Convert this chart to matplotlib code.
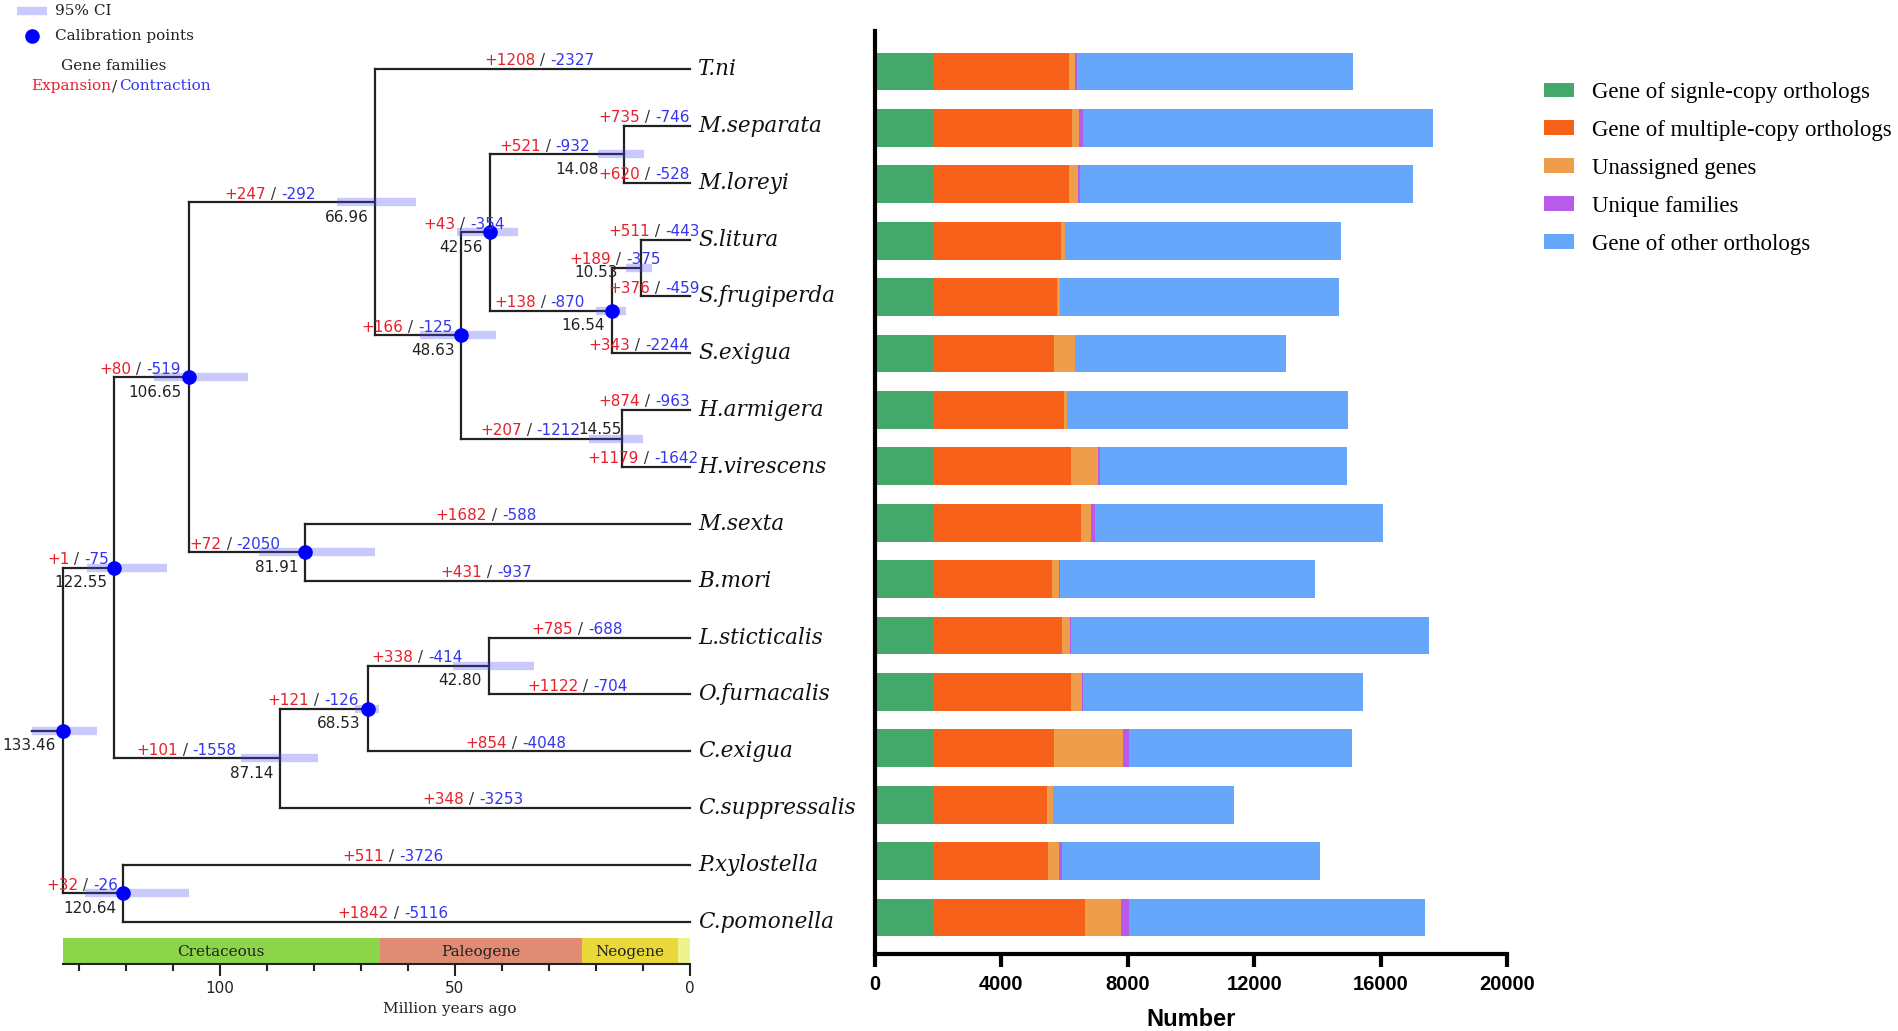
import matplotlib
matplotlib.use('Agg')
import matplotlib.pyplot as plt
from matplotlib.lines import Line2D
from matplotlib.patches import Patch
from matplotlib.offsetbox import TextArea, HPacker, AnnotationBbox
import numpy as np

# ---------------- data ----------------
species = ['T.ni', 'M.separata', 'M.loreyi', 'S.litura', 'S.frugiperda', 'S.exigua',
           'H.armigera', 'H.virescens', 'M.sexta', 'B.mori', 'L.sticticalis',
           'O.furnacalis', 'C.exigua', 'C.suppressalis', 'P.xylostella', 'C.pomonella']

# gene family expansion / contraction on terminal branches
sp_gain = [1208, 735, 620, 511, 376, 343, 874, 1179, 1682, 431, 785, 1122, 854, 348, 511, 1842]
sp_loss = [2327, 746, 528, 443, 459, 2244, 963, 1642, 588, 937, 688, 704, 4048, 3253, 3726, 5116]

# internal nodes
node_id = ['R', 'A', 'B', 'C', 'D', 'E', 'F', 'G', 'H', 'I', 'J', 'K', 'L', 'M', 'N']
node_age = [133.46, 122.55, 120.64, 106.65, 87.14, 68.53, 42.80, 66.96, 81.91,
            48.63, 42.56, 14.55, 14.08, 16.54, 10.53]
node_kids = [('A', 'B'), ('C', 'D'), ('P.xylostella', 'C.pomonella'), ('G', 'H'),
             ('E', 'C.suppressalis'), ('F', 'C.exigua'), ('L.sticticalis', 'O.furnacalis'),
             ('T.ni', 'I'), ('M.sexta', 'B.mori'), ('J', 'K'), ('L', 'M'),
             ('H.armigera', 'H.virescens'), ('M.separata', 'M.loreyi'), ('N', 'S.exigua'),
             ('S.litura', 'S.frugiperda')]
ci_old = [140.1, 128.2, 128.7, 114.0, 95.6, 71.3, 50.4, 75.2, 91.6, 57.4, 49.6, 21.5, 19.5, 19.9, 13.6]
ci_young = [126.2, 111.3, 106.7, 94.1, 79.1, 66.1, 33.2, 58.2, 67.0, 41.3, 36.5, 9.9, 9.8, 13.6, 8.0]
calibrated = [True, True, True, True, False, True, False, False, True, True, True,
              False, False, True, False]
node_gain = [None, 1, 32, 80, 101, 121, 338, 247, 72, 166, 43, 207, 521, 138, 189]
node_loss = [None, 75, 26, 519, 1558, 126, 414, 292, 2050, 125, 354, 1212, 932, 870, 375]

# where the +/- labels sit along each branch (Ma)
sp_lab_x = [32.1, 9.8, 9.8, 7.7, 7.7, 10.9, 9.8, 10.0, 43.4, 43.4, 24.0, 24.0, 37.0, 46.2, 63.2, 63.2]
node_lab_x = [None, 130.2, 129.4, 117.0, 107.2, 80.2, 58.1, 89.4, 96.8, 60.2, 48.1, 34.0, 30.9, 32.0, 15.9]

periods = ['Cretaceous', 'Paleogene', 'Neogene', '']
period_start = [133.46, 66.0, 23.0, 2.6]
period_end = [66.0, 23.0, 2.6, 0.0]
period_col = ['#8cd44a', '#e08c74', '#e8d83a', '#eef38c']

# gene counts per species
single_copy = [1850, 1850, 1850, 1850, 1850, 1850, 1850, 1850, 1850, 1850, 1850, 1850, 1850, 1850, 1850, 1850]
multi_copy = [4280, 4380, 4280, 4050, 3925, 3825, 4125, 4350, 4660, 3740, 4065, 4350, 3810, 3585, 3615, 4790]
unassigned = [210, 240, 297, 99, 84, 664, 99, 863, 326, 226, 241, 354, 2181, 198, 354, 1132]
unique_fam = [60, 113, 71, 10, 5, 5, 5, 57, 114, 43, 56, 43, 183, 5, 113, 255]
other_orth = [8716, 11082, 10530, 8736, 8813, 6676, 8898, 7827, 9114, 8067, 11309, 8848, 7062, 5732, 8138, 9384]

bar_labels = ['Gene of signle-copy orthologs', 'Gene of multiple-copy orthologs',
              'Unassigned genes', 'Unique families', 'Gene of other orthologs']
bar_colors = ['#45a86b', '#f76119', '#ee9e4a', '#b95bea', '#66a7fb']

RED = '#e8202a'
BLUE = '#3535f0'
CI_COL = (0.3, 0.3, 0.95)

W, H = 1899, 1031
fig = plt.figure(figsize=(W / 100, H / 100), dpi=100)
fig.patch.set_facecolor('white')


def P(x, y):
    return x / W, 1 - y / H


# ---------------- tree panel ----------------
ax = fig.add_axes([0, (H - 964) / H, 900 / W, 964 / H])
ax.set_xlim(690 / 4.7, (690 - 900) / 4.7)
ax.set_ylim((964 - 69) / 56.85, -69 / 56.85)


def ypos(name):
    if name in species:
        return species.index(name)
    k = node_kids[node_id.index(name)]
    return (ypos(k[0]) + ypos(k[1])) / 2


def age(name):
    if name in species:
        return 0.0
    return node_age[node_id.index(name)]


def change_label(x, y, gain, loss):
    parts = [TextArea('+%d' % gain, textprops=dict(color=RED, fontsize=11, family='DejaVu Sans')),
             TextArea(' / ', textprops=dict(color='#333333', fontsize=11, family='DejaVu Sans')),
             TextArea('-%d' % loss, textprops=dict(color=BLUE, fontsize=11, family='DejaVu Sans'))]
    box = HPacker(children=parts, align='baseline', pad=0, sep=0)
    ab = AnnotationBbox(box, (x, y), xybox=(0, 0.5), xycoords='data', boxcoords='offset points',
                        box_alignment=(0.5, 0), frameon=False, pad=0, zorder=6)
    ax.add_artist(ab)


LC = '#222222'
for i, nid in enumerate(node_id):
    a = node_age[i]
    k1, k2 = node_kids[i]
    ax.plot([a, a], [ypos(k1), ypos(k2)], color=LC, lw=1.6, zorder=2, solid_capstyle='projecting')
    for k in (k1, k2):
        ax.plot([a, age(k)], [ypos(k), ypos(k)], color=LC, lw=1.6, zorder=2, solid_capstyle='projecting')

# root stem
ax.plot([ci_old[0], node_age[0]], [ypos('R')] * 2, color=LC, lw=1.6, zorder=2)

# confidence intervals and calibration points
for i, nid in enumerate(node_id):
    y = ypos(nid)
    ax.plot([ci_old[i], ci_young[i]], [y, y], color=CI_COL, alpha=0.3, lw=6,
            solid_capstyle='butt', zorder=3)
    if calibrated[i]:
        ax.plot(node_age[i], y, 'o', color='#0000ff', ms=9.5, zorder=5)

# node age labels (offsets in px: dx, dy; dy positive downwards)
age_off = {'K': (0, -9), 'L': (-25, 15), 'N': (-23, 5)}
for i, nid in enumerate(node_id):
    dx, dy = age_off.get(nid, (-7, 15))
    ax.annotate('%.2f' % node_age[i], (node_age[i], ypos(nid)), xytext=(dx * 0.72, -dy * 0.72),
                textcoords='offset points', ha='right', va='center', fontsize=11,
                family='DejaVu Sans', color='#222222', zorder=6)

# expansion / contraction labels
for i, sp in enumerate(species):
    change_label(sp_lab_x[i], i, sp_gain[i], sp_loss[i])
for i, nid in enumerate(node_id):
    if node_gain[i] is None:
        continue
    change_label(node_lab_x[i], ypos(nid), node_gain[i], node_loss[i])

# species names
for i, sp in enumerate(species):
    ax.text(-1.7, i, sp, ha='left', va='center', fontsize=15.5, style='italic',
            family='DejaVu Serif', color='#111111')

# geological time bar
gy = ((938 + 963) / 2 - 69) / 56.85
gh = 25 / 56.85
for i in range(len(periods)):
    ax.barh(gy, period_start[i] - period_end[i], left=period_end[i], height=gh,
            color=period_col[i], edgecolor='none', zorder=1)
    if periods[i]:
        ax.text((period_start[i] + period_end[i]) / 2, gy + 0.02, periods[i], ha='center',
                va='center', fontsize=11, family='DejaVu Serif', color='#222222')

for s in ['top', 'right', 'left']:
    ax.spines[s].set_visible(False)
ax.spines['bottom'].set_bounds(node_age[0], 0)
ax.spines['bottom'].set_linewidth(1.5)
ax.spines['bottom'].set_color('#222222')
ax.set_yticks([])
ax.set_xticks([100, 50, 0])
ax.set_xticks(np.arange(10, 140, 10), minor=True)
ax.tick_params(axis='x', which='major', length=8.5, width=1.5, pad=4, labelsize=11,
               colors='#222222')
ax.tick_params(axis='x', which='minor', length=5, width=1.5, colors='#222222')
ax.set_xlabel('Million years ago', fontsize=11, family='DejaVu Serif', color='#222222',
              labelpad=4)
ax.patch.set_alpha(0)

# left legend
fig.add_artist(Line2D([17 / W, 47 / W], [1 - 11 / H] * 2, color=CI_COL, alpha=0.3, lw=6,
                      solid_capstyle='butt'))
fig.add_artist(Line2D([32 / W], [1 - 36 / H], marker='o', color='#0000ff', ms=9.5, lw=0))
fig.text(*P(55, 11), '95% CI', ha='left', va='center', fontsize=11, family='DejaVu Serif',
         color='#222222')
fig.text(*P(55, 36), 'Calibration points', ha='left', va='center', fontsize=11,
         family='DejaVu Serif', color='#222222')
fig.text(*P(114, 66), 'Gene families', ha='center', va='center', fontsize=11,
         family='DejaVu Serif', color='#222222')
fig.text(*P(111, 86), 'Expansion', ha='right', va='center', fontsize=11,
         family='DejaVu Serif', color=RED)
fig.text(*P(115, 86), '/', ha='center', va='center', fontsize=11, family='DejaVu Serif',
         color='#222222')
fig.text(*P(119, 86), 'Contraction', ha='left', va='center', fontsize=11,
         family='DejaVu Serif', color=BLUE)

# ---------------- bar panel ----------------
BX0, BX1, BY0, BY1 = 875, 1507, 31, 954
bx = fig.add_axes([BX0 / W, (H - BY1) / H, (BX1 - BX0) / W, (BY1 - BY0) / H])
ypos_bar = np.arange(len(species))
left = np.zeros(len(species))
series = [single_copy, multi_copy, unassigned, unique_fam, other_orth]
for vals, lab, col in zip(series, bar_labels, bar_colors):
    vals = np.array(vals, dtype=float)
    bx.barh(ypos_bar, vals, left=left, height=0.67, color=col, label=lab, edgecolor='none')
    left += vals
bx.set_xlim(0, 20000)
bx.set_ylim((BY1 - 71.5) / 56.4, (BY0 - 71.5) / 56.4)
bx.set_yticks([])
bx.set_xticks(np.arange(0, 20001, 4000))
for s in ['top', 'right']:
    bx.spines[s].set_visible(False)
for s in ['left', 'bottom']:
    bx.spines[s].set_linewidth(3)
bx.tick_params(axis='x', length=9, width=3, pad=6)
for t in bx.get_xticklabels():
    t.set_fontfamily('Liberation Sans')
    t.set_fontweight('bold')
    t.set_fontsize(14.5)
bx.set_xlabel('Number', fontsize=17, fontweight='bold', family='Liberation Sans', labelpad=10)

handles = [Patch(facecolor=c, edgecolor='none') for c in bar_colors]
fig.legend(handles, bar_labels, loc='upper left', bbox_to_anchor=P(1544, 82), frameon=False,
           prop={'family': 'Liberation Serif', 'size': 16.5}, handlelength=1.3,
           handleheight=0.62, handletextpad=0.8, labelspacing=0.74, borderpad=0,
           borderaxespad=0)

fig.savefig('out.png', dpi=100, facecolor='white')
